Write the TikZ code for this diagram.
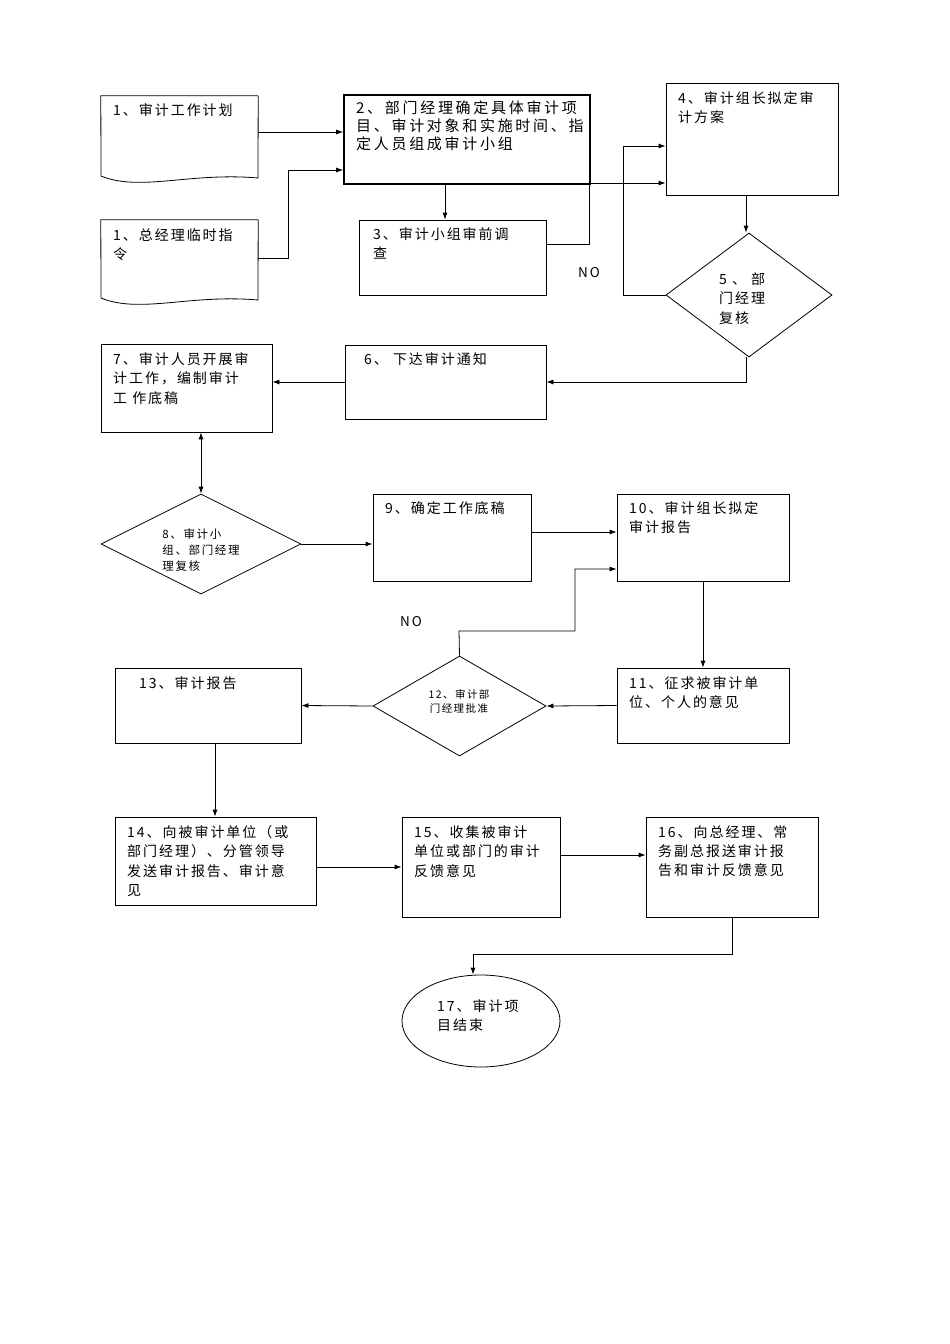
\documentclass[tikz,border=0pt]{standalone}
\usepackage{fontspec}
\setmainfont{Noto Sans CJK SC}[LetterSpace=14]
\usetikzlibrary{shapes.geometric,arrows.meta,calc}
\begin{document}
\begin{tikzpicture}[x=1pt,y=-1pt,
  box/.style={draw,line width=0.8pt,inner sep=0pt},
  ln/.style={line width=0.8pt},
  ar/.style={ln,-{Latex[length=7pt,width=5pt]}},
  txt/.style={anchor=north west,align=left,inner sep=0pt,font=\fontsize{14}{19.5}\selectfont},
  stxt/.style={align=center,inner sep=0pt,font=\fontsize{10.5}{14}\selectfont}]
\useasboundingbox[fill=white] (0,0) rectangle (950,1344);
% nodes
\node[inner sep=0pt,minimum width=157pt,minimum height=87pt] (d1) at (179.5,139.5) {};
\draw[ln] (d1.north east) -- (d1.north west) -- (101,176) .. controls (140,192) and (190,172) .. (258,178) -- (d1.north east);
\node[txt] at (113,103) {1、审计工作计划};
\node[inner sep=0pt,minimum width=157pt,minimum height=85pt] (d2) at (179.5,262.5) {};
\draw[ln] (d2.north east) -- (d2.north west) -- (101,298) .. controls (140,314) and (190,294) .. (258,300) -- (d2.north east);
\node[txt] at (113,228) {1、总经理临时指\\令};
\node[box,line width=1.6pt,minimum width=246pt,minimum height=89pt] (b2) at (467,139.5) {};
\node[txt,font=\fontsize{15}{18}\selectfont\addfontfeature{LetterSpace=18}] at (356,101) {2、部门经理确定具体审计项\\目、审计对象和实施时间、指\\定人员组成审计小组};
\node[box,minimum width=187pt,minimum height=75pt] (b3) at (452.5,257.5) {};
\node[txt] at (373,227) {3、审计小组审前调\\查};
\node[box,minimum width=172pt,minimum height=112pt] (b4) at (752,139) {};
\node[txt] at (678,91) {4、审计组长拟定审\\计方案};
\node[draw,ln,diamond,aspect=1.34,minimum width=166pt,minimum height=124pt,inner sep=0pt] (dm5) at (749,295) {};
\node[txt] at (719,272) {5 、 部\\门经理\\复核};
\node[box,minimum width=201pt,minimum height=74pt] (b6) at (445.5,382) {};
\node[txt] at (364,352) {6、 下达审计通知};
\node[box,minimum width=171pt,minimum height=88pt] (b7) at (186.5,388) {};
\node[txt] at (113,352) {7、审计人员开展审\\计工作，编制审计\\工 作底稿};
\node[draw,ln,diamond,aspect=2,minimum width=200pt,minimum height=100pt,inner sep=0pt] (dm8) at (201,544) {};
\node[stxt,font=\fontsize{11.5}{16}\selectfont,align=left] at (201,550) {8、审计小\\组、部门经理\\理复核};
\node[box,minimum width=158pt,minimum height=87pt] (b9) at (452,537.5) {};
\node[txt] at (385,501) {9、确定工作底稿};
\node[box,minimum width=172pt,minimum height=87pt] (b10) at (703,537.5) {};
\node[txt] at (629,501) {10、审计组长拟定\\审计报告};
\node[box,minimum width=172pt,minimum height=75pt] (b11) at (703,705.5) {};
\node[txt] at (629,676) {11、征求被审计单\\位、个人的意见};
\node[draw,ln,diamond,aspect=1.73,minimum width=173pt,minimum height=100pt,inner sep=0pt] (dm12) at (459.5,706) {};
\node[stxt] at (459,701) {12、审计部\\门经理批准};
\node[box,minimum width=186pt,minimum height=75pt] (b13) at (208,705.5) {};
\node[txt] at (139,676) {13、审计报告};
\node[box,minimum width=201pt,minimum height=88pt] (b14) at (215.5,861) {};
\node[txt] at (127,825) {14、向被审计单位（或\\部门经理）、分管领导\\发送审计报告、审计意\\见};
\node[box,minimum width=158pt,minimum height=100pt] (b15) at (481,867) {};
\node[txt] at (414,825) {15、收集被审计\\单位或部门的审计\\反馈意见};
\node[box,minimum width=172pt,minimum height=100pt] (b16) at (732,867) {};
\node[txt] at (658,825) {16、向总经理、常\\务副总报送审计报\\告和审计反馈意见};
\node[draw,ln,ellipse,minimum width=158pt,minimum height=92pt,inner sep=0pt] (e17) at (481,1021) {};
\node[txt] at (437,999) {17、审计项\\目结束};
\node[font=\fontsize{13.5}{16}\selectfont] (no1) at (589,273) {NO};
\node[font=\fontsize{13.5}{16}\selectfont] (no2) at (411,622) {NO};
% connectors
\draw[ar] (d1.east |- 0,132) -- (b2.west |- 0,132);
\draw[ar] (d2.east |- 0,258) -- (288,258) -- (288,170) -- (b2.west |- 0,170);
\draw[ar] (b2.south -| 445,0) -- (b3.north -| 445,0);
\draw[ar] (b3.east |- 0,244) -- (589,244) -- (589,183) -- (b4.west |- 0,183);
\draw[ar] (b4.south -| 746,0) -- (dm5.north -| 746,0);
\draw[ar] (dm5.west) -- (623,295) -- (623,146) -- (b4.west |- 0,146);
\draw[ar] (dm5.south -| 746,0) -- (746,382) -- (b6.east);
\draw[ar] (b6.west) -- (b7.east |- b6.west);
\draw[ln,{Latex[length=7pt,width=5pt]}-{Latex[length=7pt,width=5pt]}] (b7.south -| dm8.north) -- (dm8.north);
\draw[ar] (dm8.east) -- (b9.west |- dm8.east);
\draw[ar] (b9.east |- 0,532) -- (b10.west |- 0,532);
\draw[ar] (b10.south) -- (b11.north);
\draw[ar] (b11.west) -- (dm12.east);
\draw[ar] (dm12.north) -- (459,631) -- (575,631) -- (575,569) -- (b10.west |- 0,569);
\draw[ar] (dm12.west) -- (b13.east);
\draw[ar] (b13.south -| 215,0) -- (b14.north -| 215,0);
\draw[ar] (b14.east |- 0,867) -- (b15.west |- 0,867);
\draw[ar] (b15.east |- 0,855) -- (b16.west |- 0,855);
\draw[ar] (b16.south) -- (732,954) -- (473,954) -- (e17.north -| 473,0);
\end{tikzpicture}
\end{document}
